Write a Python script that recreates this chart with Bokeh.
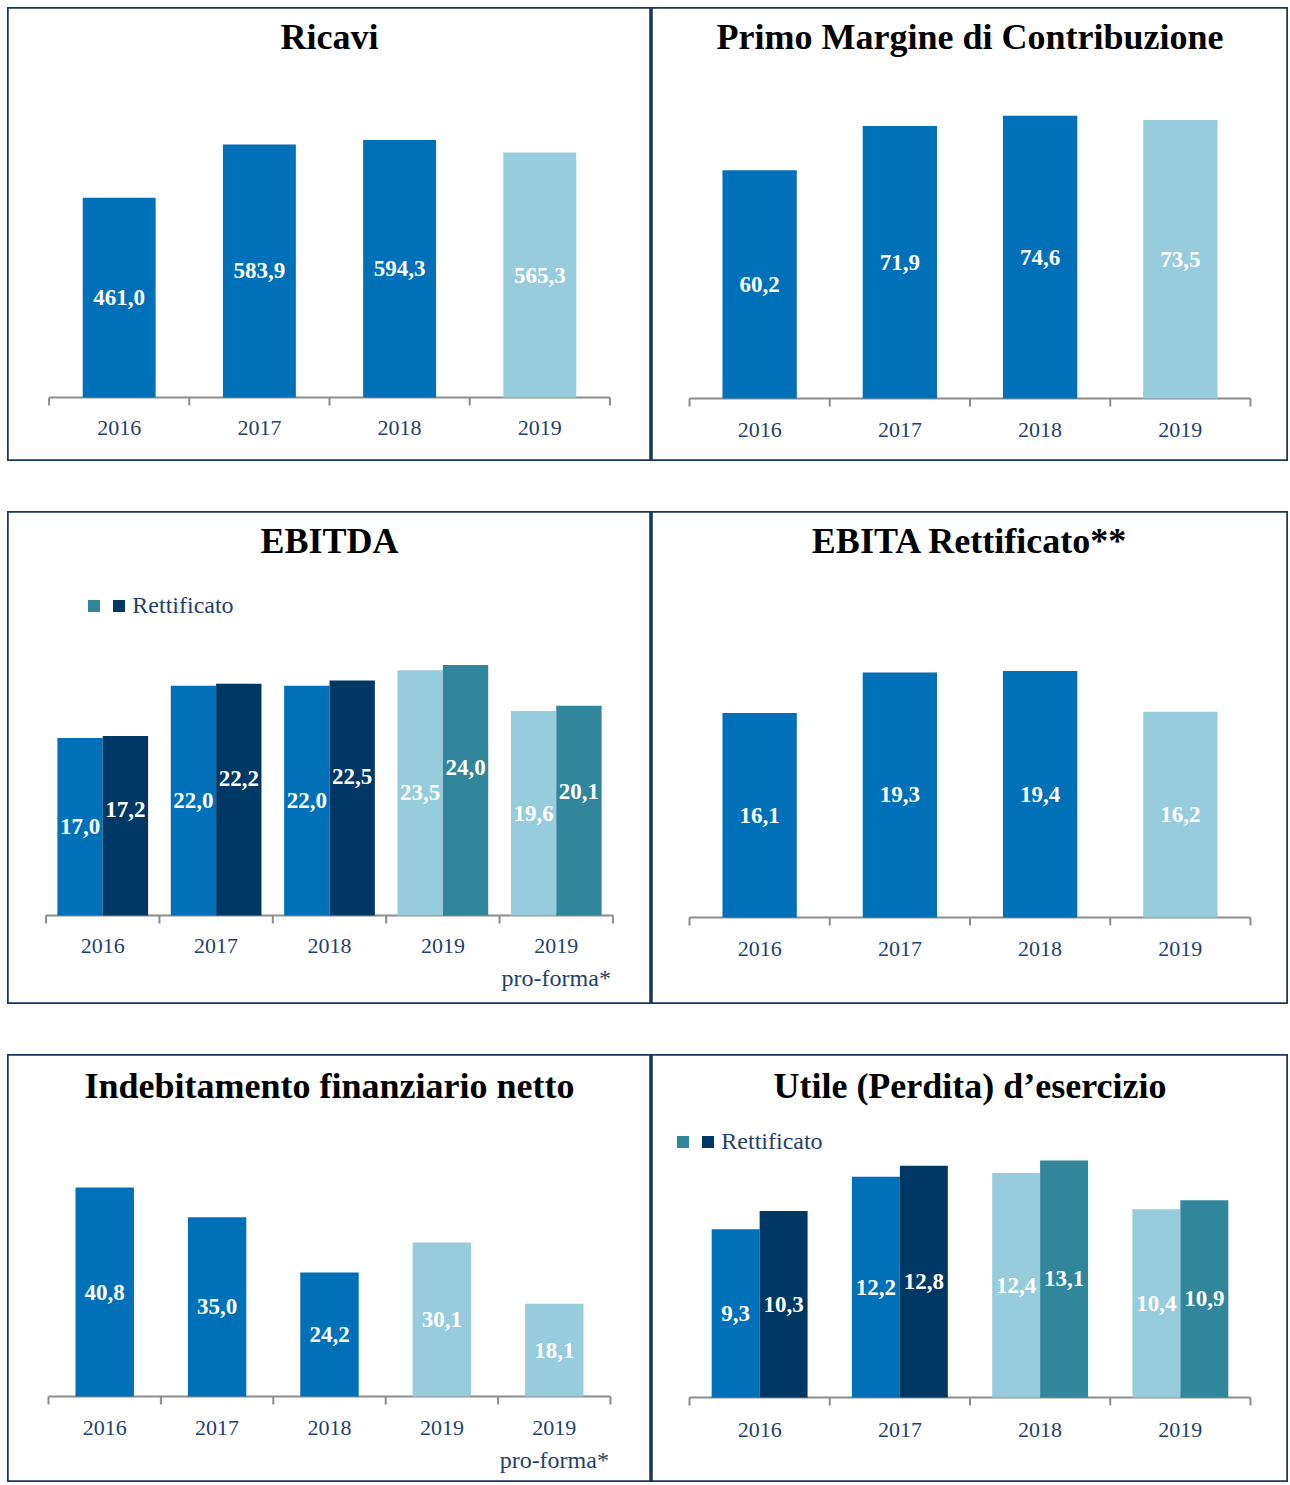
from bokeh.plotting import figure
from bokeh.models import (FactorRange, Range1d, ColumnDataSource, Label, Legend,
                          LegendItem, Spacer)
from bokeh.transform import dodge
from bokeh.layouts import column, row
from bokeh.embed import file_html
from bokeh.resources import INLINE
from bokeh.core.properties import value

# ---------------- data ----------------
years4 = ["2016", "2017", "2018", "2019"]
years5 = ["2016", "2017", "2018", "2019", "2019 pro-forma"]
ticks4 = ["2016", "2017", "2018", "2019"]
ticks5 = ["2016", "2017", "2018", "2019", "2019"]
subs4 = ["", "", "", ""]
subs5 = ["", "", "", "", "pro-forma*"]

ricavi = [461.0, 583.9, 594.3, 565.3]
primo_margine = [60.2, 71.9, 74.6, 73.5]
ebitda = [17.0, 22.0, 22.0, 23.5, 19.6]
ebitda_rettificato = [17.2, 22.2, 22.5, 24.0, 20.1]
ebita_rettificato = [16.1, 19.3, 19.4, 16.2]
indebitamento = [40.8, 35.0, 24.2, 30.1, 18.1]
utile = [9.3, 12.2, 12.4, 10.4]
utile_rettificato = [10.3, 12.8, 13.1, 10.9]
legend_label = "Rettificato"

# ---------------- styles ----------------
BORDER = "#17375E"
AXIS = "#8C8C8C"
TXT = "#1F3F6E"
BLUE = "#0070B8"
NAVY = "#003865"
LIGHT = "#96CCDC"
TEAL = "#31869B"
FONT = "Liberation Serif"

LW, RW = 644, 637          # left / right panel widths
H1, H2, H3 = 454, 493, 428  # row heights


def fmt(v):
    return f"{v:.1f}".replace(".", ",")


def base_panel(title, factors, ticks, subs, W, H, base_top, k, pad, title_dy, tick_dy):
    p = figure(width=W, height=H, title=None,
               x_range=FactorRange(factors=factors, range_padding=pad / 2,
                                   range_padding_units="absolute"),
               y_range=Range1d(-(H - base_top) / k, base_top / k),
               x_axis_location=None, y_axis_location=None,
               toolbar_location=None, output_backend="svg", min_border=0)
    p.xgrid.visible = False
    p.ygrid.visible = False
    p.outline_line_color = BORDER
    p.outline_line_width = 2.5
    p.outline_line_alpha = 1
    n = len(factors)
    edges = list(range(n + 1))
    p.segment(x0=[0], y0=[0], x1=[n], y1=[0], line_color=AXIS, line_width=2)
    p.segment(x0=edges, y0=[0] * (n + 1), x1=edges, y1=[-8 / k] * (n + 1),
              line_color=AXIS, line_width=2)
    p.text(x=factors, y=[0] * n, text=ticks, y_offset=tick_dy, text_align="center",
           text_baseline="middle", text_color=TXT, text_font=value(FONT),
           text_font_size="22px")
    if any(subs):
        p.text(x=factors, y=[0] * n, text=subs, y_offset=tick_dy + 32, text_align="center",
               text_baseline="middle", text_color=TXT, text_font=value(FONT),
               text_font_size="24px")
    p.add_layout(Label(x=W / 2, y=H - title_dy, x_units="screen", y_units="screen",
                       text=title, text_align="center", text_baseline="middle",
                       text_color="black", text_font=FONT, text_font_size="36px",
                       text_font_style="bold"))
    return p


def value_labels(p, xspec, ycol, src):
    p.text(x=xspec, y=ycol, text="lbl", source=src, text_color="white",
           text_align="center", text_baseline="middle", text_font=value(FONT),
           text_font_size="23px", text_font_style="bold")


def single_panel(title, factors, ticks, subs, vals, light_from, W, H, base_top, k, pad,
                 bar_w, title_dy, tick_dy):
    p = base_panel(title, factors, ticks, subs, W, H, base_top, k, pad, title_dy, tick_dy)
    colors = [LIGHT if i >= light_from else BLUE for i in range(len(vals))]
    src = ColumnDataSource(dict(x=factors, top=vals, half=[v / 2 for v in vals],
                                lbl=[fmt(v) for v in vals], color=colors))
    p.vbar(x="x", top="top", width=bar_w, fill_color="color", line_color=None, source=src)
    value_labels(p, "x", "half", src)
    return p


def grouped_panel(title, factors, ticks, subs, vals_a, vals_b, light_from, W, H, base_top,
                  k, pad, bar_w, title_dy, tick_dy, b_label_pos, legend_xy):
    p = base_panel(title, factors, ticks, subs, W, H, base_top, k, pad, title_dy, tick_dy)
    n = len(factors)
    ca = [LIGHT if i >= light_from else BLUE for i in range(n)]
    cb = [TEAL if i >= light_from else NAVY for i in range(n)]
    sa = ColumnDataSource(dict(x=factors, top=vals_a, half=[v / 2 for v in vals_a],
                               lbl=[fmt(v) for v in vals_a], color=ca))
    sb = ColumnDataSource(dict(x=factors, top=vals_b, half=[v * b_label_pos for v in vals_b],
                               lbl=[fmt(v) for v in vals_b], color=cb))
    xa = dodge("x", -bar_w / 2, range=p.x_range)
    xb = dodge("x", bar_w / 2, range=p.x_range)
    p.vbar(x=xa, top="top", width=bar_w, fill_color="color", line_color=None, source=sa)
    rb = p.vbar(x=xb, top="top", width=bar_w, fill_color="color", line_color=None, source=sb)
    value_labels(p, xa, "half", sa)
    value_labels(p, xb, "half", sb)
    legend = Legend(items=[LegendItem(label="\u2009", renderers=[rb], index=n - 1),
                           LegendItem(label=legend_label, renderers=[rb], index=0)],
                    orientation="horizontal", location=legend_xy,
                    glyph_width=15, glyph_height=15, label_standoff=6, label_width=0,
                    label_height=15, spacing=0, padding=0, margin=0,
                    border_line_color=None, background_fill_alpha=0,
                    label_text_font=FONT, label_text_font_size="24px",
                    label_text_color=TXT)
    p.add_layout(legend)
    return p


p1 = single_panel("Ricavi", years4, ticks4, subs4, ricavi, 3, LW, H1, 390, 0.4333,
                  0.593, 0.52, 29, 30)
p2 = single_panel("Primo Margine di Contribuzione", years4, ticks4, subs4, primo_margine, 3,
                  RW, H1, 391, 3.79, 0.542, 0.53, 29, 31)
p3 = grouped_panel("EBITDA", years5, ticks5, subs5, ebitda, ebitda_rettificato, 3, LW, H2,
                   404, 10.44, 0.68, 0.40, 29, 30, 0.59, (78.5, H2 - 96 - 12))
p4 = single_panel("EBITA Rettificato**", years4, ticks4, subs4, ebita_rettificato, 3, RW, H2,
                  406, 12.7, 0.542, 0.53, 29, 31)
p5 = single_panel("Indebitamento finanziario netto", years5, ticks5, subs5, indebitamento, 3,
                  LW, H3, 342, 5.12, 0.73, 0.52, 31, 31)
p6 = grouped_panel("Utile (Perdita) d\u2019esercizio", years4, ticks4, subs4, utile,
                   utile_rettificato, 2, RW, H3, 343, 18.1, 0.542, 0.342, 31, 32, 0.5,
                   (23.5, H3 - 89 - 12))

grid = column(row(p1, p2), Spacer(height=50), row(p3, p4), Spacer(height=50), row(p5, p6))
layout = column(Spacer(height=7), row(Spacer(width=7), grid))

open("out.html", "w").write(file_html(layout, INLINE))
